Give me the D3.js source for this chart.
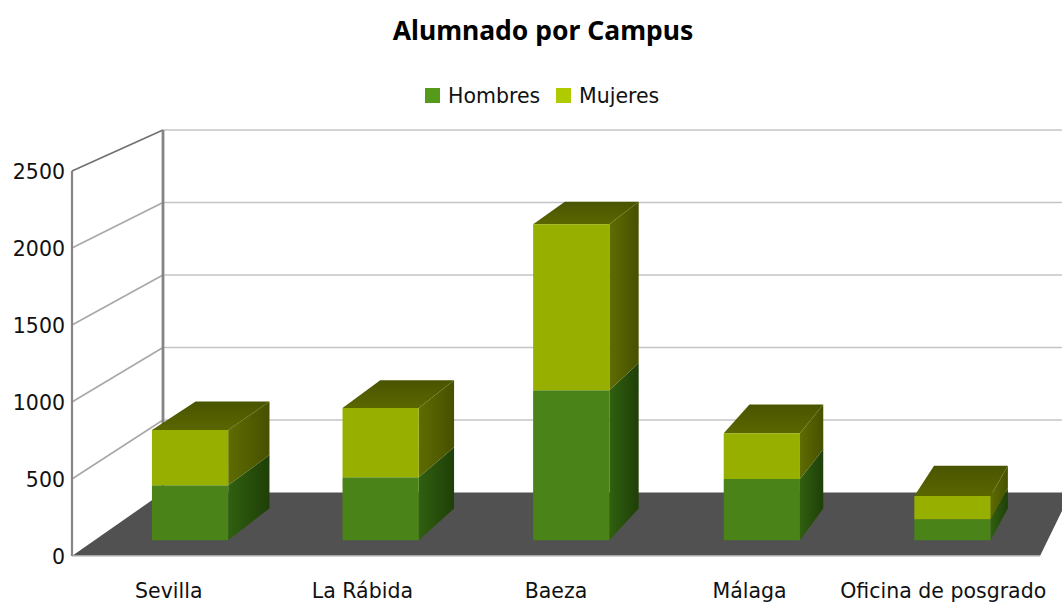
<!DOCTYPE html>
<html>
<head>
<meta charset="utf-8">
<script src="https://cdn.jsdelivr.net/npm/d3@7"></script>
<style>
html, body { margin: 0; padding: 0; background: #fff; overflow: hidden; }
svg { display: block; }
.marks { filter: blur(0.45px); }
text { font-family: "DejaVu Sans", sans-serif; fill: #111; }
</style>
</head>
<body>
<svg id="chart" width="1062" height="604"></svg>
<script>
var categories = ["Sevilla", "La Rábida", "Baeza", "Málaga", "Oficina de posgrado"];
var seriesNames = ["Hombres", "Mujeres"];
var hombres = [362, 415, 988, 402, 138];
var mujeres = [363, 455, 1094, 303, 152];
var yTicks = [0, 500, 1000, 1500, 2000, 2500];

var width = 1062, height = 604;
var svg = d3.select("#chart");

// colours per series: front, side (light end, dark end), legend
var faceColor = { Hombres: "#4a8418", Mujeres: "#97b000" };
var legendColor = { Hombres: "#559a1a", Mujeres: "#afcb00" };
var sideColor = { Hombres: ["#30600f", "#1f3f08"], Mujeres: ["#5f6c00", "#465000"] };

// the box: front plane is depth 0, back wall is depth 1
var yFront = d3.scaleLinear().domain([0, 2500]).range([556, 171]);
var yBack = d3.scaleLinear().domain([0, 2500]).range([492.5, 130]);
var xLeft = d3.scaleLinear().domain([0, 1]).range([72, 163]);
var xRight = d3.scaleLinear().domain([0, 1]).range([1040, 1071]);
var band = d3.scaleBand().domain(categories).range([0, 1]).paddingInner(0.6).paddingOuter(0.3);

var barNear = 0.25, barFar = 0.75;

function project(u, value, depth) {
    var x = xLeft(depth) + u * (xRight(depth) - xLeft(depth));
    var y = yFront(value) + depth * (yBack(value) - yFront(value));
    return [x, y];
}
var poly = d3.line();

var defs = svg.append("defs");
seriesNames.forEach(function(name) {
    var g = defs.append("linearGradient").attr("id", "side" + name)
        .attr("x1", 0).attr("x2", 1).attr("y1", 0).attr("y2", 0);
    g.append("stop").attr("offset", "0%").attr("stop-color", sideColor[name][0]);
    g.append("stop").attr("offset", "100%").attr("stop-color", sideColor[name][1]);
});
var topGrad = defs.append("linearGradient").attr("id", "topFace")
    .attr("x1", 0).attr("x2", 0).attr("y1", 0).attr("y2", 1);
topGrad.append("stop").attr("offset", "0%").attr("stop-color", "#4a5400");
topGrad.append("stop").attr("offset", "100%").attr("stop-color", "#5a6700");

// title and legend
svg.append("text").attr("x", 543).attr("y", 40).attr("text-anchor", "middle")
    .attr("font-size", 26.5).attr("font-weight", "bold").style("font-family", '"Noto Sans", sans-serif').style("fill", "#000")
    .text("Alumnado por Campus");

var legendX = { Hombres: 425, Mujeres: 556 };
seriesNames.forEach(function(name) {
    svg.append("rect").attr("x", legendX[name]).attr("y", 88).attr("width", 15).attr("height", 15)
        .attr("fill", legendColor[name]);
    svg.append("text").attr("x", legendX[name] + 23).attr("y", 103)
        .attr("font-size", 20.5).text(name);
});

var marks = svg.append("g").attr("class", "marks");

// floor
marks.append("path")
    .attr("d", poly([project(0, 0, 0), project(1, 0, 0), project(1, 0, 1), project(0, 0, 1)]) + "Z")
    .attr("fill", "#515151");

// grid: oblique on the side wall, horizontal on the back wall
var grid = marks.append("g");
yTicks.forEach(function(t) {
    if (t > 0) {
        grid.append("path").attr("d", poly([project(0, t, 0), project(0, t, 1)]))
            .attr("fill", "none").attr("stroke", t == 2500 ? "#707070" : "#a8a8a8").attr("stroke-width", 1.6);
        grid.append("path").attr("d", poly([project(0, t, 1), [width, yBack(t)]]))
            .attr("fill", "none").attr("stroke", "#c4c4c4").attr("stroke-width", 1.6);
    }
});
grid.append("path").attr("d", poly([project(0, 0, 0), project(1, 0, 0)]))
    .attr("stroke", "#c4c4c4").attr("stroke-width", 1.6).attr("fill", "none");
grid.append("path").attr("d", poly([project(0, 0, 0), project(0, 2500, 0)]))
    .attr("stroke", "#858585").attr("stroke-width", 2.2).attr("fill", "none");
grid.append("path").attr("d", poly([project(0, 0, 1), project(0, 2500, 1)]))
    .attr("stroke", "#858585").attr("stroke-width", 2.8).attr("fill", "none");

// y axis labels
var yAxis = d3.axisLeft(yFront).tickValues(yTicks).tickSize(0).tickPadding(7).tickFormat(d3.format("d"));
var axisG = svg.append("g").attr("transform", "translate(72,1)").call(yAxis);
axisG.select(".domain").remove();
axisG.selectAll("text").attr("font-size", 20.5).attr("font-family", '"DejaVu Sans", sans-serif').style("fill", "#111");

// stacked boxes
var rows = categories.map(function(c, i) { return { cat: c, Hombres: hombres[i], Mujeres: mujeres[i] }; });
var stacked = d3.stack().keys(seriesNames)(rows);

stacked.forEach(function(layer) {
    var name = layer.key;
    var isTop = name == seriesNames[seriesNames.length - 1];
    layer.forEach(function(d) {
        var cat = d.data.cat;
        var u0 = band(cat), u1 = band(cat) + band.bandwidth();
        marks.append("path")
            .attr("d", poly([project(u1, d[0], barNear), project(u1, d[0], barFar), project(u1, d[1], barFar), project(u1, d[1], barNear)]) + "Z")
            .attr("fill", "url(#side" + name + ")");
        if (isTop) {
            marks.append("path")
                .attr("d", poly([project(u0, d[1], barNear), project(u1, d[1], barNear), project(u1, d[1], barFar), project(u0, d[1], barFar)]) + "Z")
                .attr("fill", "url(#topFace)");
        }
        marks.append("path")
            .attr("d", poly([project(u0, d[0], barNear), project(u1, d[0], barNear), project(u1, d[1], barNear), project(u0, d[1], barNear)]) + "Z")
            .attr("fill", faceColor[name]);
    });
});

// category labels sit under the front edge of the floor
categories.forEach(function(c) {
    svg.append("text").attr("x", project(band(c) + band.bandwidth() / 2, 0, 0)[0]).attr("y", 598)
        .attr("text-anchor", "middle").attr("font-size", 20.5).text(c);
});
</script>
</body>
</html>
